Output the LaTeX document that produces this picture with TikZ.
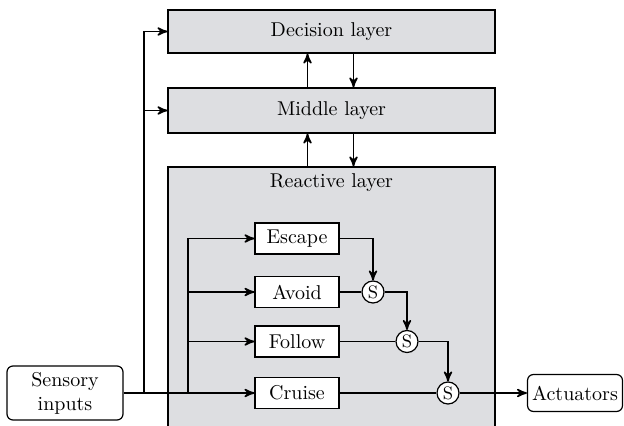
\documentclass[tikz,border=0pt]{standalone}
\usetikzlibrary{arrows, positioning}
\definecolor{layergray}{RGB}{221,222,225}

\begin{document}
\begin{tikzpicture}[x=0.5pt,y=-0.5pt,>=stealth']
\tikzset{layer/.style={draw, fill=layergray, line width=0.6pt, minimum width=163.5pt},
  behav/.style={draw, fill=white, line width=0.6pt, minimum width=42pt, minimum height=15.5pt, inner sep=1pt},
  io/.style={draw, rounded corners=3pt, line width=0.6pt, inner sep=1pt},
  sw/.style={draw, circle, fill=white, line width=0.6pt, minimum size=11pt, inner sep=0pt, font=\small},
  flow/.style={line width=0.8pt}}
\useasboundingbox (0,0) rectangle (624,426);
% the three layers
\node[layer, minimum height=21.5pt] (dec) at (331.5,31.5) {Decision layer};
\node[layer, minimum height=22.5pt] (mid) at (331.5,110.5) {Middle layer};
\node[layer, minimum height=131pt] (react) at (331.5,298) {};
\node (reactlbl) at (331.5,183) {Reactive layer};
% behaviours
\node[behav] (escape) at (297,238.5) {Escape};
\node[behav] (avoid) at (297,292) {Avoid};
\node[behav] (follow) at (297,341.5) {Follow};
\node[behav] (cruise) at (297,393) {Cruise};
% suppressors
\node[sw] (s1) at (373,292) {S};
\node[sw] (s2) at (407,341.5) {S};
\node[sw] (s3) at (448,393) {S};
\node[io, minimum width=58pt, minimum height=27pt, align=center] (sens) at (65,393) {Sensory\\inputs};
\node[io, minimum width=47.5pt, minimum height=18.5pt] (act) at (575,393) {Actuators};
\coordinate (feedA) at (144,393);
\coordinate (feedB) at (188,393);
\path[flow,->] ([xshift=-12pt]mid.north) edge ([xshift=-12pt]dec.south);
\path[flow,->] ([xshift=11pt]dec.south) edge ([xshift=11pt]mid.north);
\path[flow,->] ([xshift=-12pt]react.north) edge ([xshift=-12pt]mid.south);
\path[flow,->] ([xshift=11pt]mid.south) edge ([xshift=11pt]react.north);
\draw[flow,->] (sens) -- (cruise);
\draw[flow,->] (feedA) |- (dec);
\draw[flow,->] (feedA) |- (mid);
\draw[flow,->] (feedB) |- (escape);
\draw[flow,->] (feedB) |- (avoid);
\draw[flow,->] (feedB) |- (follow);
\draw[flow,->] (escape) -| (s1);
\draw[flow] (avoid) -- (s1);
\draw[flow,->] (s1) -| (s2);
\draw[flow] (follow) -- (s2);
\draw[flow,->] (s2) -| (s3);
\draw[flow] (cruise) -- (s3);
\draw[flow,->] (s3) -- (act);
\end{tikzpicture}
\end{document}
